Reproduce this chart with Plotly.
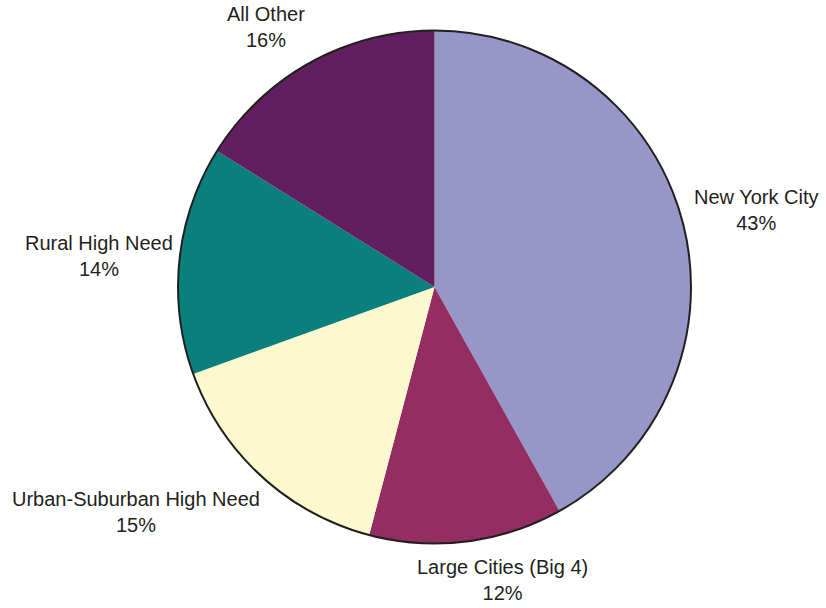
import math
import plotly.graph_objects as go

labels = ["New York City", "Large Cities (Big 4)", "Urban-Suburban High Need", "Rural High Need", "All Other"]
values = [41.9, 12.2, 15.4, 14.4, 16.1]          # slice shares as drawn
pct_text = ["43%", "12%", "15%", "14%", "16%"]    # printed labels
colors = ["#9696C8", "#932D62", "#FCF9CF", "#0A807D", "#621F5F"]

# label placement offsets (pixels, relative to slice edge at mid-angle; y down)
label_nudge = [(73.3, -12.4), (35.4, 38.5), (-125.3, 35.8), (-80.5, -3.7), (-44.2, -35.6)]

W, H = 826, 608
cx, cy, R = 434.5, 287.0, 256.5  # pie centre / radius in page pixels (y from top)

dom_x = [(cx - R) / W, (cx + R) / W]
dom_y = [(H - cy - R) / H, (H - cy + R) / H]

fig = go.Figure(go.Pie(
    labels=labels, values=values, sort=False, direction="clockwise", rotation=0,
    marker=dict(colors=colors, line=dict(color="rgba(0,0,0,0)", width=0)),
    textinfo="none", hoverinfo="label", showlegend=False,
    domain=dict(x=dom_x, y=dom_y),
))

total = sum(values)
cum = 0
annotations = []
for lab, v, pt, (nx, ny) in zip(labels, values, pct_text, label_nudge):
    mid = (cum + v / 2) / total * 2 * math.pi
    cum += v
    ex = cx + R * math.sin(mid)
    ey = cy - R * math.cos(mid)
    px, py = ex + nx, ey + ny
    annotations.append(dict(
        x=px / W, y=1 - py / H, xref="paper", yref="paper",
        text=f"{lab}<br>{pt}", showarrow=False,
        xanchor="center", yanchor="middle", align="center",
        font=dict(family="Liberation Sans, Arial, sans-serif", size=20, color="#231F20"),
    ))

fig.update_layout(
    width=W, height=H, margin=dict(l=0, r=0, t=0, b=0),
    paper_bgcolor="white", plot_bgcolor="white",
    annotations=annotations,
    shapes=[dict(type="circle", xref="paper", yref="paper",
                 x0=dom_x[0], x1=dom_x[1], y0=dom_y[0], y1=dom_y[1],
                 line=dict(color="#231F20", width=2), fillcolor="rgba(0,0,0,0)")],
)
fig.write_html("out.html")
